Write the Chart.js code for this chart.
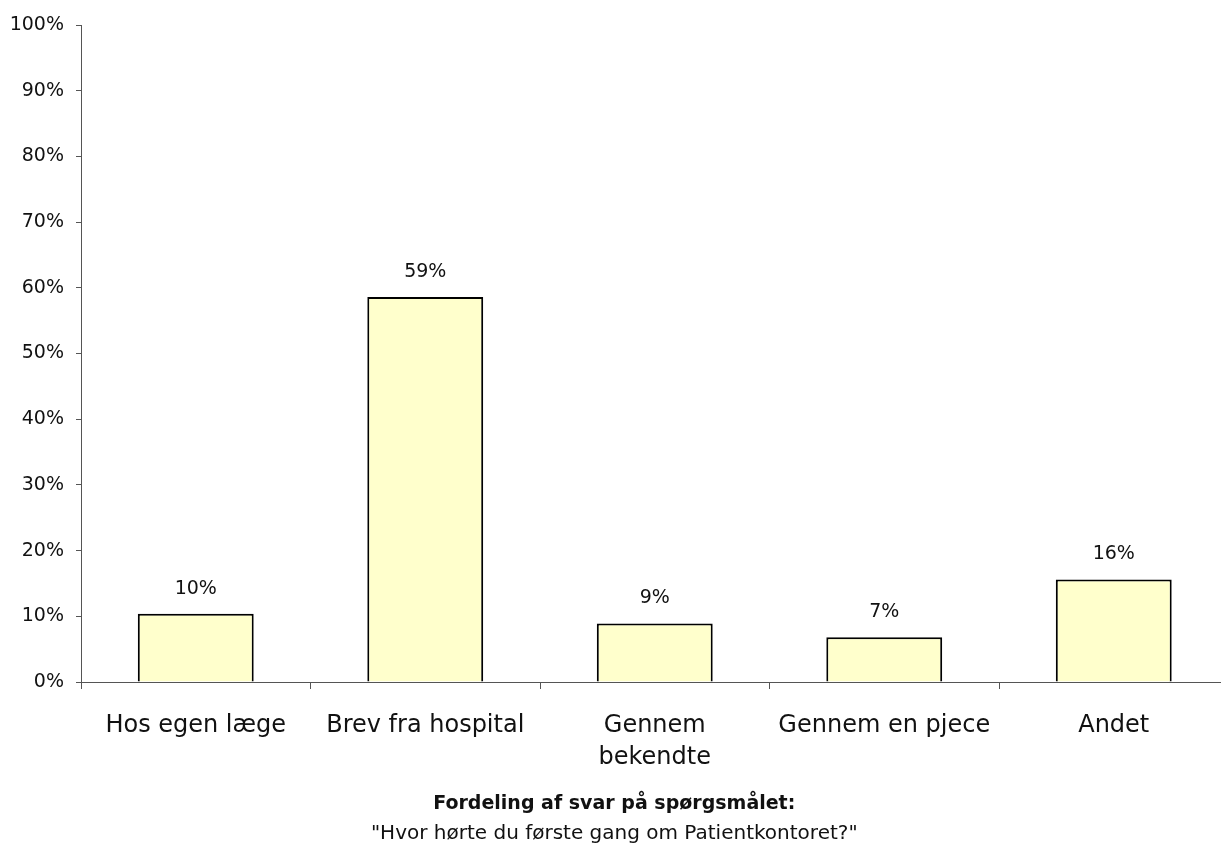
<!DOCTYPE html>
<html>
<head>
<meta charset="utf-8">
<script src="https://cdn.jsdelivr.net/npm/chart.js@4/dist/chart.umd.min.js"></script>
<style>
  html, body { margin: 0; padding: 0; background: #fff; overflow: hidden; }
  #wrap { width: 1230px; height: 850px; position: relative; }
</style>
</head>
<body>
<div id="wrap"><canvas id="c"></canvas></div>
<script>
const categories = ["Hos egen læge", "Brev fra hospital", ["Gennem", "bekendte"], "Gennem en pjece", "Andet"];
const shares = [10.4, 58.6, 8.9, 6.8, 15.6];
const valueLabels = ["10%", "59%", "9%", "7%", "16%"];
const yTicks = [0, 10, 20, 30, 40, 50, 60, 70, 80, 90, 100];
const titleText = "Fordeling af svar på spørgsmålet:";
const subtitleText = "\"Hvor hørte du første gang om Patientkontoret?\"";

const FONT = "'DejaVu Sans', sans-serif";

const valueLabelPlugin = {
  id: 'valueLabels',
  afterDatasetsDraw(chart) {
    const ctx = chart.ctx;
    const meta = chart.getDatasetMeta(0);
    ctx.save();
    ctx.font = "19px " + FONT;
    ctx.fillStyle = "#111";
    ctx.textAlign = "center";
    ctx.textBaseline = "middle";
    meta.data.forEach((bar, i) => {
      ctx.fillText(valueLabels[i], bar.x, bar.y - 25);
    });
    ctx.restore();
  }
};

new Chart(document.getElementById('c'), {
  type: 'bar',
  data: {
    labels: categories,
    datasets: [{
      data: shares,
      backgroundColor: '#FFFFCC',
      borderColor: '#000',
      borderWidth: 2,
      barPercentage: 0.505,
      categoryPercentage: 1.0
    }]
  },
  options: {
    responsive: true,
    maintainAspectRatio: false,
    animation: false,
    layout: { padding: { top: 25, right: 1.5, left: 0, bottom: 4 } },
    plugins: {
      legend: { display: false },
      tooltip: { enabled: false },
      title: {
        display: true,
        text: titleText,
        position: 'bottom',
        color: '#111',
        font: { family: FONT, size: 19, weight: 'bold', lineHeight: 1.2 },
        padding: { top: 0, bottom: 6.6 },
        weight: 1000
      },
      subtitle: {
        display: true,
        text: subtitleText,
        position: 'bottom',
        color: '#111',
        font: { family: FONT, size: 20, lineHeight: 1.2 },
        padding: { top: 0, bottom: 0 },
        weight: 2000
      }
    },
    scales: {
      x: {
        offset: true,
        border: { display: true, color: '#555', width: 1 },
        grid: { display: true, drawOnChartArea: false, offset: true, tickLength: 7, tickColor: '#555' },
        ticks: { color: '#111', font: { family: FONT, size: 24, lineHeight: 1.36 }, padding: 20, maxRotation: 0, autoSkip: false },
        afterFit: s => { s.height = 110.6; }
      },
      y: {
        min: 0, max: 100,
        afterBuildTicks: s => { s.ticks = yTicks.map(v => ({ value: v })); },
        border: { display: true, color: '#555', width: 1 },
        grid: { display: true, drawOnChartArea: false, tickLength: 5, tickColor: '#555' },
        ticks: { color: '#111', font: { family: FONT, size: 19 }, padding: 12, callback: v => v + '%' },
        afterFit: s => { s.width = 81; }
      }
    }
  },
  plugins: [valueLabelPlugin]
});
</script>
</body>
</html>
